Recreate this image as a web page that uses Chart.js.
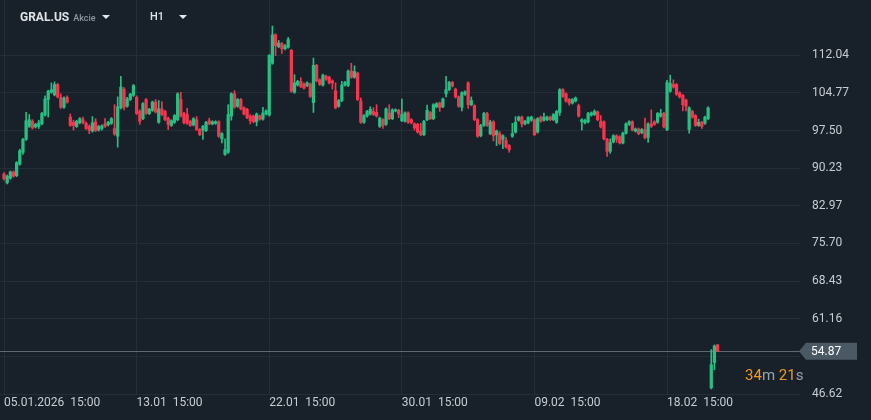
<!DOCTYPE html>
<html>
<head>
<meta charset="utf-8">
<script src="https://cdn.jsdelivr.net/npm/chart.js@4.4.1/dist/chart.umd.min.js"></script>
<style>
    html, body { margin: 0; padding: 0; background: #18212a; }
    .wrap { position: relative; width: 871px; height: 420px; font-family: Roboto, "Noto Sans", sans-serif; }
    canvas { display: block; }
    .hdr { position: absolute; top: 10px; height: 16px; display: flex; align-items: baseline; color: #dfe3e6; }
    .sym { left: 20px; font-size: 12px; font-weight: 700; }
    .kind { font-size: 9px; font-weight: 500; color: #8d969e; margin-left: 4px; }
    .tf { left: 150px; font-size: 11px; font-weight: 500; }
    .caret { position: absolute; top: 15px; width: 0; height: 0; border-left: 4px solid transparent; border-right: 4px solid transparent; border-top: 4px solid #e4e7ea; }
    .timer { position: absolute; left: 745px; top: 366px; font-size: 15px; color: #9aa3ab; letter-spacing: 0; }
    .timer b { font-weight: 400; color: #f39a1e; }
</style>
</head>
<body>
<div class="wrap">
    <canvas id="priceChart" width="871" height="420"></canvas>
    <div class="hdr sym">GRAL.US<span class="kind">Akcie</span></div>
    <div class="caret" style="left:102px"></div>
    <div class="hdr tf">H1</div>
    <div class="caret" style="left:179px"></div>
    <div class="timer"><b>34</b>m <b>21</b>s</div>
</div>
<script>
    // hourly candles, 05.01.2026 15:00 onwards (7 bars a day)
    const opens = [
        89.1, 87.4, 88.3, 89.5, 88.8, 91.0, 93.3, 95.8, 98.3, 99.3, 98.2, 98.3, 98.8, 100.5, 103.5, 104.9, 104.4, 106.4, 103.9, 102.0, 103.9,
        100.1, 99.1, 98.3, 99.0, 99.6, 98.9, 98.3, 97.4, 99.2, 97.6, 97.9, 98.8, 98.6, 98.9, 97.9, 96.4, 101.9, 105.5, 102.2, 103.5, 104.3,
        103.9, 101.2, 99.8, 103.5, 100.8, 101.4, 103.0, 99.1, 101.7, 101.2, 99.9, 98.5, 99.1, 99.6, 103.5, 100.8, 100.6, 99.3, 98.6, 99.6, 97.7,
        97.6, 97.5, 99.4, 98.8, 98.9, 99.2, 95.9, 92.9, 93.3, 100.3, 104.6, 102.2, 103.5, 101.9, 101.6, 100.3, 100.3, 99.2, 100.3, 99.7, 100.7,
        100.5, 110.5, 116.0, 113.7, 114.3, 113.3, 113.6, 113.0, 104.9, 106.3, 107.0, 106.5, 106.2, 106.5, 102.9, 110.1, 107.3, 106.3, 108.0, 107.8,
        107.1, 105.2, 102.2, 103.3, 106.3, 106.2, 109.0, 107.8, 108.6, 103.2, 99.1, 100.3, 100.7, 101.2, 101.0, 98.3, 99.6, 98.7, 100.9, 99.8,
        101.3, 101.4, 99.4, 99.3, 100.9, 99.6, 98.8, 98.7, 97.4, 96.7, 99.6, 101.0, 99.8, 102.1, 102.8, 102.1, 104.6, 105.4, 106.8, 105.5,
        104.0, 102.0, 104.5, 106.7, 102.5, 102.3, 99.6, 96.5, 98.5, 100.8, 96.9, 99.2, 96.7, 96.9, 95.8, 95.6, 94.6, 96.4, 97.2, 99.5,
        100.1, 98.8, 99.0, 99.5, 99.6, 97.2, 100.1, 99.5, 99.6, 100.1, 99.6, 99.1, 101.0, 105.4, 104.6, 103.5, 102.8, 103.2, 102.3, 99.2,
        99.0, 99.2, 100.5, 100.6, 101.1, 99.3, 99.2, 95.8, 93.5, 95.3, 96.5, 96.3, 95.1, 97.0, 98.7, 99.2, 97.4, 97.8, 97.1, 97.7,
        96.2, 98.8, 99.2, 99.1, 100.3, 100.8, 97.7, 105.1, 106.4, 106.4, 104.8, 104.3, 103.4, 97.7, 101.2, 100.4, 98.5, 99.1, 98.9, 99.8,
        47.8, 52.7, 56.1
    ];
    const highs = [
        89.4, 88.9, 89.7, 89.7, 91.5, 93.9, 96.0, 101.0, 100.6, 99.6, 98.9, 99.5, 101.0, 104.2, 105.3, 106.7, 106.9, 106.6, 104.6, 104.0, 104.2,
        100.7, 99.5, 99.5, 100.0, 100.1, 99.2, 98.6, 100.2, 99.8, 98.5, 98.6, 99.8, 99.3, 100.0, 102.5, 104.0, 108.0, 105.8, 103.9, 104.7, 106.4,
        104.2, 101.5, 102.9, 103.7, 101.8, 103.2, 103.5, 103.3, 103.1, 101.4, 100.1, 99.6, 100.6, 104.8, 104.9, 101.0, 101.8, 99.5, 100.0, 100.2, 97.9,
        98.5, 99.3, 99.9, 99.4, 99.4, 99.4, 97.1, 95.9, 102.5, 104.8, 105.2, 103.7, 103.7, 102.1, 101.8, 100.6, 100.5, 100.9, 100.5, 102.0, 101.5,
        112.2, 117.7, 116.2, 114.9, 114.5, 114.1, 115.5, 113.2, 108.3, 107.2, 107.7, 106.7, 106.9, 106.7, 111.5, 110.3, 107.5, 108.4, 108.2, 108.0,
        107.3, 106.7, 103.5, 107.0, 107.0, 109.2, 110.5, 110.0, 108.8, 103.8, 100.6, 101.4, 102.1, 101.9, 102.5, 100.1, 99.8, 101.9, 102.5, 101.7,
        101.7, 101.6, 103.6, 101.1, 101.1, 99.8, 99.0, 98.9, 98.9, 99.5, 102.4, 101.2, 102.7, 102.9, 103.0, 103.8, 108.0, 107.0, 107.0, 105.7,
        104.2, 105.0, 105.2, 106.9, 104.0, 102.5, 99.8, 98.7, 101.0, 101.0, 99.5, 99.4, 97.6, 97.3, 96.7, 96.2, 94.8, 98.9, 100.2, 100.3,
        100.3, 99.5, 100.2, 100.3, 99.8, 100.0, 100.3, 100.9, 100.3, 100.3, 100.8, 101.4, 105.6, 105.6, 104.8, 103.7, 103.7, 104.0, 102.6, 99.8,
        99.7, 101.0, 101.1, 101.5, 101.3, 100.4, 99.4, 96.0, 95.9, 96.7, 96.7, 96.5, 97.2, 99.0, 99.4, 99.4, 98.0, 98.0, 97.9, 99.9,
        99.0, 101.5, 99.4, 101.0, 101.6, 101.0, 107.2, 108.2, 107.3, 106.6, 105.0, 104.5, 103.6, 102.1, 101.4, 100.6, 99.7, 99.3, 100.3, 102.1,
        55.2, 56.1, 56.2
    ];
    const lows = [
        87.9, 87.2, 88.1, 88.5, 88.6, 90.8, 92.9, 95.6, 98.1, 97.8, 98.0, 97.9, 98.6, 100.3, 100.1, 104.7, 104.2, 103.8, 101.8, 101.8, 102.8,
        98.3, 97.6, 98.1, 98.8, 98.8, 97.7, 96.9, 97.2, 97.3, 97.4, 97.6, 98.1, 98.4, 98.7, 96.6, 94.3, 101.7, 101.5, 102.0, 103.3, 104.1,
        100.6, 98.7, 99.6, 100.6, 100.6, 101.2, 100.9, 98.9, 100.4, 99.4, 97.7, 98.3, 98.9, 99.4, 100.1, 98.8, 98.7, 98.3, 98.4, 97.5, 96.5,
        95.8, 97.3, 98.6, 98.6, 98.7, 96.2, 95.1, 92.7, 93.1, 99.5, 101.8, 102.0, 101.5, 100.5, 99.8, 98.8, 99.0, 98.4, 99.5, 99.5, 100.5,
        100.3, 110.3, 112.0, 113.5, 112.4, 113.1, 113.4, 104.9, 104.7, 106.1, 105.8, 105.5, 106.0, 103.9, 101.0, 106.9, 106.2, 106.1, 107.2, 106.5,
        105.5, 101.7, 102.0, 103.1, 106.1, 106.0, 107.6, 107.6, 103.3, 98.9, 98.9, 100.1, 100.5, 100.4, 100.1, 98.1, 97.9, 98.5, 99.6, 99.6,
        101.1, 100.0, 99.2, 99.1, 98.9, 98.8, 97.6, 97.0, 96.5, 96.5, 99.4, 99.6, 99.6, 101.9, 101.2, 101.9, 104.0, 105.2, 105.9, 103.8,
        102.0, 101.3, 104.3, 101.8, 102.3, 99.4, 96.2, 96.3, 98.3, 98.3, 96.7, 95.5, 94.6, 94.8, 94.0, 94.1, 93.3, 96.2, 97.0, 99.3,
        98.2, 98.6, 98.8, 99.3, 96.5, 97.0, 99.1, 99.3, 99.4, 99.4, 99.4, 98.9, 100.4, 103.9, 103.0, 102.4, 102.6, 103.0, 100.1, 97.6,
        98.8, 99.0, 100.3, 100.4, 99.4, 98.0, 95.7, 92.5, 93.1, 95.1, 95.2, 94.9, 94.9, 96.8, 98.5, 97.4, 97.2, 96.7, 96.9, 95.9,
        95.2, 98.1, 98.5, 98.9, 100.1, 98.0, 97.5, 104.9, 105.7, 104.3, 103.8, 101.3, 101.3, 97.0, 99.9, 98.3, 98.3, 97.9, 98.7, 99.6,
        47.6, 51.3, 54.8
    ];
    const closes = [
        88.2, 88.7, 89.5, 88.7, 91.3, 93.6, 95.8, 99.4, 99.6, 98.0, 98.7, 99.0, 100.8, 103.6, 105.1, 105.4, 106.4, 104.0, 102.0, 103.8, 103.0,
        98.5, 98.5, 99.3, 99.8, 99.0, 97.9, 97.5, 99.0, 97.5, 98.3, 98.4, 98.3, 99.1, 99.8, 96.8, 102.1, 105.9, 102.0, 103.6, 104.5, 106.2,
        100.8, 99.3, 102.7, 100.8, 101.6, 103.0, 101.1, 101.7, 100.6, 99.6, 98.7, 99.4, 100.4, 104.6, 100.3, 99.0, 98.9, 98.5, 99.8, 97.7, 96.7,
        98.3, 99.1, 98.8, 99.2, 99.2, 96.4, 96.9, 93.8, 100.6, 104.6, 102.0, 103.5, 101.7, 100.7, 100.0, 99.4, 99.2, 100.7, 99.7, 100.9, 101.3,
        112.0, 116.0, 113.9, 114.4, 113.3, 113.9, 115.1, 105.1, 106.7, 107.0, 106.0, 105.7, 106.7, 104.1, 110.1, 107.1, 106.4, 108.2, 107.4, 106.7,
        106.7, 101.9, 103.3, 106.3, 106.8, 109.0, 107.8, 108.9, 103.5, 99.1, 100.4, 101.2, 101.6, 100.6, 100.3, 99.9, 98.5, 101.7, 99.8, 101.5,
        101.5, 100.7, 100.6, 100.9, 99.1, 99.0, 98.0, 97.2, 96.7, 99.3, 101.4, 99.8, 102.5, 102.7, 101.9, 103.6, 105.4, 106.8, 106.1, 104.0,
        102.2, 104.8, 105.0, 102.5, 103.3, 99.6, 96.4, 98.5, 100.8, 98.5, 99.1, 96.5, 97.4, 95.0, 96.5, 94.3, 93.8, 96.9, 99.1, 100.1,
        98.8, 99.3, 100.0, 100.1, 96.7, 99.8, 99.3, 100.1, 100.1, 99.6, 100.6, 101.2, 105.4, 104.1, 103.2, 102.8, 103.5, 103.8, 100.3, 99.6,
        99.5, 100.8, 100.9, 101.2, 99.6, 98.2, 95.9, 93.5, 95.2, 96.5, 95.8, 95.1, 97.0, 98.8, 99.2, 97.6, 97.8, 96.9, 97.7, 96.1,
        98.8, 98.3, 98.7, 100.8, 100.8, 98.2, 106.8, 106.6, 105.9, 104.5, 104.0, 102.5, 102.2, 101.9, 100.1, 98.5, 99.1, 98.3, 100.1, 101.9,
        52.3, 55.9, 54.87
    ];

    const xTickIdx = [0, 42, 84, 126, 168, 210];
    const xTickLabels = ['05.01.2026  15:00', '13.01  15:00', '22.01  15:00', '30.01  15:00', '09.02  15:00', '18.02  15:00'];
    const yTicks = [46.62, 53.89, 61.16, 68.43, 75.70, 82.97, 90.23, 97.50, 104.77, 112.04];
    const yTickLabels = ['46.62', '', '61.16', '68.43', '75.70', '82.97', '90.23', '97.50', '104.77', '112.04'];

    const UP = '#27c083';
    const DOWN = '#f5364e';
    const GRID = '#252e37';
    const TEXT = '#c7ccd1';

    const candleColor = opens.map((o, i) => (closes[i] >= o ? UP : DOWN));

    function noPadding(scale) {
        scale.paddingTop = 0;
        scale.paddingBottom = 0;
        scale.paddingLeft = 0;
        scale.paddingRight = 0;
    }

    const lastPrice = {
        id: 'lastPrice',
        beforeDatasetsDraw(chart) {
            const { ctx, chartArea, scales } = chart;
            const y = Math.round(scales.y.getPixelForValue(closes[closes.length - 1])) + 0.5;
            ctx.save();
            ctx.strokeStyle = '#5d6872';
            ctx.lineWidth = 1;
            ctx.beginPath();
            ctx.moveTo(chartArea.left, y);
            ctx.lineTo(chartArea.right, y);
            ctx.stroke();
            ctx.restore();
        },
        afterDraw(chart) {
            const { ctx, chartArea, scales } = chart;
            const price = closes[closes.length - 1];
            const y = scales.y.getPixelForValue(price);
            const x0 = chartArea.right - 1;
            ctx.save();
            ctx.fillStyle = '#4b5965';
            ctx.beginPath();
            ctx.moveTo(x0, y);
            ctx.lineTo(x0 + 7, y - 8.5);
            ctx.lineTo(x0 + 58, y - 8.5);
            ctx.lineTo(x0 + 58, y + 8.5);
            ctx.lineTo(x0 + 7, y + 8.5);
            ctx.closePath();
            ctx.fill();
            ctx.fillStyle = '#ffffff';
            ctx.font = '12px Roboto, sans-serif';
            ctx.textBaseline = 'middle';
            ctx.fillText(price.toFixed(2), x0 + 12, y + 0.5);
            ctx.restore();
        },
    };

    new Chart(document.getElementById('priceChart'), {
        type: 'bar',
        data: {
            datasets: [
                {
                    label: 'wick',
                    data: lows.map((l, i) => ({ x: i, y: [l, highs[i]] })),
                    backgroundColor: candleColor,
                    barThickness: 1,
                    grouped: false,
                    order: 2,
                },
                {
                    label: 'body',
                    data: opens.map((o, i) => ({ x: i, y: [o, closes[i]] })),
                    backgroundColor: candleColor,
                    barThickness: 2.6,
                    minBarLength: 1,
                    grouped: false,
                    order: 1,
                },
            ],
        },
        options: {
            responsive: false,
            animation: false,
            layout: { padding: 0 },
            plugins: {
                legend: { display: false },
                tooltip: { enabled: false },
            },
            scales: {
                x: {
                    type: 'linear',
                    offset: false,
                    min: -1.27,
                    max: 252.1,
                    afterBuildTicks(scale) {
                        scale.ticks = xTickIdx.map((v) => ({ value: v }));
                    },
                    afterFit(scale) {
                        scale.height = 26;
                        noPadding(scale);
                    },
                    grid: { color: GRID, drawTicks: false, offset: false },
                    border: { display: true, color: GRID },
                    ticks: {
                        align: 'start',
                        padding: 2,
                        maxRotation: 0,
                        autoSkip: false,
                        color: TEXT,
                        font: { family: 'Roboto', size: 12 },
                        callback: (value, index) => xTickLabels[index],
                    },
                },
                y: {
                    position: 'right',
                    min: 46.62,
                    max: 122.72,
                    afterBuildTicks(scale) {
                        scale.ticks = yTicks.map((v) => ({ value: v }));
                    },
                    afterFit(scale) {
                        scale.width = 71;
                        noPadding(scale);
                    },
                    grid: { color: GRID, drawTicks: false },
                    border: { display: false },
                    ticks: {
                        padding: 12,
                        color: TEXT,
                        font: { family: 'Roboto', size: 12 },
                        callback: (value, index) => yTickLabels[index],
                    },
                },
            },
        },
        plugins: [lastPrice],
    });
</script>
</body>
</html>
